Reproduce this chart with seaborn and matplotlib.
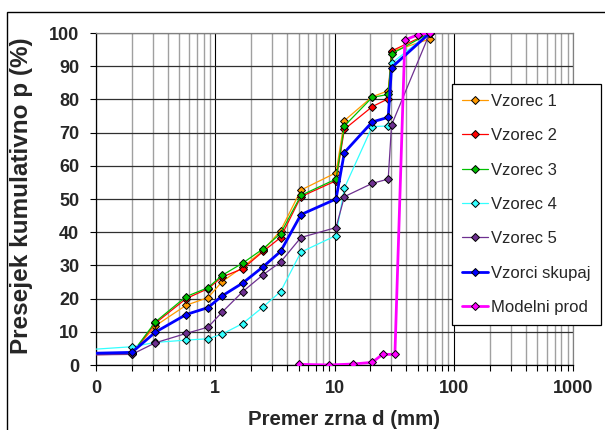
import numpy as np
import pandas as pd
import seaborn as sns
import matplotlib
matplotlib.use("Agg")
import matplotlib.pyplot as plt
from matplotlib.patches import Rectangle
from matplotlib.ticker import FixedLocator, NullFormatter

# sieve sizes (mm) and cumulative passing (%)
d_vzorci = [0.063, 0.2, 0.315, 0.57, 0.87, 1.14, 1.7, 2.52, 3.53, 5.23, 10.3, 12.1, 20.7, 28.2, 30.1, 63]
vzorec1 = [3.2, 3.5, 11.8, 18.0, 20.3, 25.1, 29.5, 34.5, 40.5, 52.7, 57.9, 73.6, 80.8, 82.6, 94.4, 98.2]
vzorec2 = [3.0, 3.3, 12.6, 20.0, 23.0, 26.5, 29.0, 34.2, 38.4, 50.7, 55.5, 71.0, 77.8, 80.2, 94.6, 100]
vzorec3 = [3.2, 3.5, 13.0, 20.6, 23.3, 27.0, 30.7, 35.0, 39.6, 51.1, 56.0, 72.0, 80.6, 81.5, 93.7, 100]
vzorec4 = [4.3, 5.5, 6.8, 7.5, 7.9, 9.3, 12.5, 17.5, 22.1, 34.0, 39.0, 53.3, 71.8, 72.0, 90.9, 100]
vzorec5 = [3.0, 3.2, 6.7, 9.5, 11.4, 15.9, 22.1, 27.2, 31.0, 38.4, 41.4, 50.7, 54.7, 56.0, 72.3, 100]
skupaj = [3.4, 3.8, 9.9, 15.2, 17.3, 20.8, 24.7, 29.6, 34.2, 45.3, 50.0, 64.0, 73.2, 74.6, 89.6, 100]

d_model = [5.0, 9.0, 14.4, 20.7, 25.3, 32.1, 38.9, 50.4, 63]
model = [0.2, 0.0, 0.3, 0.8, 3.2, 3.2, 97.9, 99.5, 100]

series = [
    ("Vzorec 1", d_vzorci, vzorec1, "#FF9900", 0.9),
    ("Vzorec 2", d_vzorci, vzorec2, "#FF0000", 0.9),
    ("Vzorec 3", d_vzorci, vzorec3, "#00C000", 0.9),
    ("Vzorec 4", d_vzorci, vzorec4, "#33FFFF", 0.9),
    ("Vzorec 5", d_vzorci, vzorec5, "#6E3090", 0.9),
    ("Vzorci skupaj", d_vzorci, skupaj, "#0000FF", 2.0),
    ("Modelni prod", d_model, model, "#FF00FF", 2.0),
]

x_ticks = [0.1, 1, 10, 100, 1000]
x_labels = ["0", "1", "10", "100", "1000"]
y_ticks = list(range(0, 101, 10))

sns.set_style("white")
plt.rcParams["font.family"] = ["Liberation Sans", "DejaVu Sans"]

fig = plt.figure(figsize=(6.05, 4.3), dpi=100)
ax = fig.add_axes([96 / 605, 1 - 365 / 430, (573 - 96) / 605, (365 - 33) / 430])

for name, xs, ys, col, lw in series:
    df = pd.DataFrame({"d": xs, "p": ys})
    sns.lineplot(data=df, x="d", y="p", ax=ax, color=col, linewidth=lw,
                 marker="D", markersize=5.5, markeredgecolor="black",
                 markeredgewidth=0.7, markerfacecolor=col,
                 sort=False, estimator=None, label=name, zorder=3)

ax.set_xscale("log")
ax.set_xlim(0.1, 1000)
ax.set_ylim(0, 100)
ax.xaxis.set_major_locator(FixedLocator(x_ticks))
ax.set_xticklabels(x_labels)
minors = [m * 10.0 ** e for e in range(-1, 3) for m in range(2, 10)]
ax.xaxis.set_minor_locator(FixedLocator(minors))
ax.xaxis.set_minor_formatter(NullFormatter())
ax.set_yticks(y_ticks)

# grid
ax.grid(which="major", axis="x", color="black", linewidth=0.8, zorder=0)
ax.grid(which="minor", axis="x", color="#a0a0a0", linewidth=1.0, zorder=0)
ax.grid(which="major", axis="y", color="#303030", linewidth=0.9, zorder=0)
ax.set_axisbelow(True)

ax.tick_params(axis="both", which="both", direction="out", length=4, width=0.8,
               color="black", bottom=True, left=True)
ax.tick_params(axis="x", which="major", pad=7, labelsize=13)
ax.tick_params(axis="y", which="major", pad=8, labelsize=13)
for lab in ax.get_xticklabels() + ax.get_yticklabels():
    lab.set_fontweight("bold")

for s in ["left", "bottom"]:
    ax.spines[s].set_color("black")
    ax.spines[s].set_linewidth(0.9)
for s in ["top", "right"]:
    ax.spines[s].set_color("#808080")
    ax.spines[s].set_linewidth(0.9)

ax.set_xlabel("Premer zrna d (mm)", fontsize=14.8, fontweight="bold")
ax.set_ylabel("Presejek kumulativno p (%)", fontsize=17.5, fontweight="bold")
ax.xaxis.set_label_coords(0.52, -0.137)
ax.yaxis.set_label_coords(-0.133, 0.51)

ax.get_legend().remove()
handles, labels = ax.get_legend_handles_labels()
for h in handles:
    h.set_markersize(4.5)
leg = fig.legend(handles, labels, loc="upper left", bbox_to_anchor=(452 / 605, 1 - 84 / 430),
                 fontsize=12, frameon=True, fancybox=False, framealpha=1,
                 edgecolor="black", handlelength=1.55, handletextpad=0.2,
                 borderpad=0.6, labelspacing=1.16, borderaxespad=0)
leg.get_frame().set_linewidth(0.9)
leg.set_zorder(5)

# outer chart border
fig.patches.append(Rectangle((7 / 605, -0.1), 1.2, 1.1 - 12 / 430, transform=fig.transFigure,
                             fill=False, edgecolor="black", linewidth=1.0))

fig.savefig("out.png", dpi=100)
